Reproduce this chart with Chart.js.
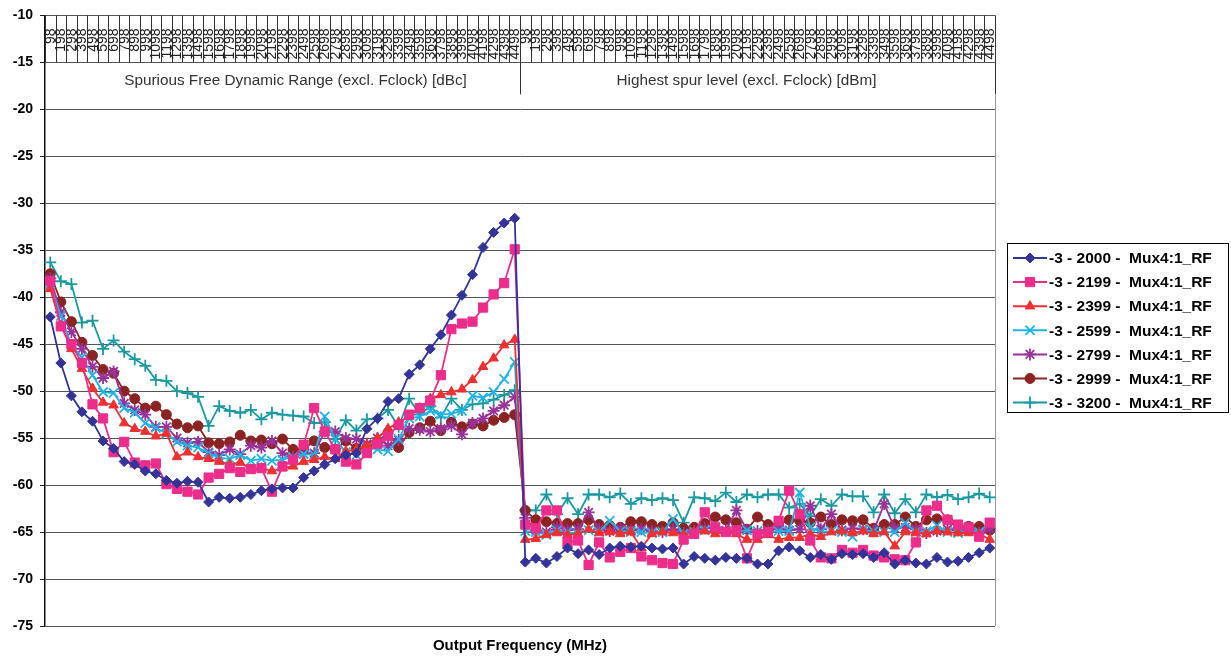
<!DOCTYPE html>
<html>
<head>
<meta charset="utf-8">
<script src="https://cdn.jsdelivr.net/npm/chart.js@4.4.0/dist/chart.umd.min.js"></script>
<style>
  html, body { margin: 0; padding: 0; background: #fff; }
  canvas { display: block; }
</style>
</head>
<body>
<canvas id="grafico" width="1231" height="658"></canvas>
<script>
// ===== Dados =====
const freqLabels = ['98','198','298','398','498','598','698','798','898','998',
  '1098','1198','1298','1398','1498','1598','1698','1798','1898','1998',
  '2098','2198','2298','2398','2498','2598','2698','2798','2898','2998',
  '3098','3198','3298','3398','3498','3598','3698','3798','3898','3998',
  '4098','4198','4298','4398','4498'];
const groupLabels = ['Spurious Free Dynamic Range (excl. Fclock) [dBc]', 'Highest spur level (excl. Fclock) [dBm]'];
const seriesNames = ['-3 - 2000 -  Mux4:1_RF', '-3 - 2199 -  Mux4:1_RF', '-3 - 2399 -  Mux4:1_RF',
  '-3 - 2599 -  Mux4:1_RF', '-3 - 2799 -  Mux4:1_RF', '-3 - 2999 -  Mux4:1_RF', '-3 - 3200 -  Mux4:1_RF'];

// SFDR [dBc] (first group) and highest spur [dBm] (second group)
const sfdr2000 = [-42.1,-47.0,-50.5,-52.2,-53.2,-55.3,-56.1,-57.5,-57.8,-58.5,-58.8,-59.5,-59.8,-59.6,-59.7,
  -61.8,-61.3,-61.4,-61.3,-61.0,-60.6,-60.4,-60.3,-60.3,-59.2,-58.5,-57.8,-57.2,-56.8,-56.6,
  -54.0,-52.9,-51.1,-50.8,-48.2,-47.2,-45.5,-44.0,-41.9,-39.8,-37.6,-34.7,-33.1,-32.1,-31.6];
const spur2000 = [-68.2,-67.8,-68.3,-67.6,-66.7,-67.3,-66.9,-67.4,-66.7,-66.5,-66.6,-66.5,-66.7,-66.8,-66.7,
  -68.4,-67.6,-67.8,-68.0,-67.7,-67.8,-67.8,-68.4,-68.4,-67.0,-66.6,-67.0,-67.7,-67.4,-67.9,
  -67.3,-67.4,-67.3,-67.7,-67.2,-68.4,-68.0,-68.3,-68.4,-67.7,-68.2,-68.1,-67.7,-67.2,-66.7];

const sfdr2199 = [-38.3,-43.1,-45.0,-47.0,-51.4,-52.9,-56.5,-55.4,-57.6,-57.9,-57.7,-59.9,-60.4,-60.7,-61.0,
  -59.2,-58.8,-58.2,-58.6,-58.3,-58.2,-60.7,-58.0,-57.3,-55.7,-51.8,-54.3,-56.2,-57.5,-57.8,
  -56.6,-55.6,-54.8,-53.6,-52.5,-51.8,-51.0,-48.3,-43.4,-42.8,-42.6,-41.1,-39.7,-38.5,-34.9];
const spur2199 = [-64.2,-64.6,-62.7,-62.7,-66.1,-65.9,-68.5,-66.1,-67.7,-67.1,-66.7,-67.6,-68.0,-68.3,-68.4,
  -65.8,-65.2,-62.9,-64.5,-65.0,-64.8,-67.8,-65.2,-65.0,-63.8,-60.6,-63.1,-65.9,-67.7,-67.8,
  -66.9,-67.2,-66.9,-67.5,-67.7,-67.9,-68.0,-66.1,-62.7,-62.2,-63.7,-64.2,-64.5,-65.5,-64.0];

const sfdr2399 = [-39.1,-43.0,-45.5,-47.6,-49.7,-51.2,-51.5,-53.4,-54.0,-54.3,-54.8,-54.5,-57.0,-56.5,-57.0,
  -57.2,-57.5,-57.8,-57.6,-58.3,-58.2,-58.5,-58.2,-58.0,-57.5,-57.3,-57.0,-57.2,-56.4,-56.2,
  -55.7,-55.0,-54.0,-53.3,-52.7,-51.8,-50.8,-50.4,-50.1,-49.8,-48.8,-47.4,-46.5,-45.1,-44.5];
const spur2399 = [-65.8,-65.7,-65.3,-65.1,-65.3,-65.2,-64.7,-65.1,-65.0,-65.2,-65.0,-66.7,-65.2,-65.0,-65.1,
  -65.3,-65.0,-64.9,-65.2,-65.0,-65.2,-65.8,-65.8,-65.3,-65.8,-65.6,-65.6,-65.2,-65.5,-65.0,
  -64.9,-65.1,-64.9,-65.2,-65.0,-66.5,-65.0,-65.1,-65.2,-64.9,-65.0,-65.1,-65.1,-65.2,-65.8];

const sfdr2599 = [-38.6,-42.0,-45.1,-46.4,-48.3,-50.1,-50.2,-51.8,-52.3,-53.4,-53.9,-54.5,-55.4,-55.8,-56.0,
  -56.6,-57.1,-57.2,-56.8,-57.4,-57.2,-57.4,-57.3,-57.0,-56.7,-56.8,-52.7,-55.1,-56.5,-56.8,
  -56.0,-56.2,-56.4,-55.1,-52.9,-52.7,-52.1,-52.5,-52.4,-52.1,-50.5,-50.7,-50.1,-48.7,-46.9];
const spur2599 = [-64.9,-65.0,-65.3,-64.8,-65.0,-65.2,-64.8,-65.0,-63.8,-64.9,-65.0,-65.0,-65.1,-65.0,-63.6,
  -65.2,-65.0,-64.8,-65.0,-64.9,-65.0,-64.8,-64.9,-65.0,-64.9,-64.9,-60.8,-64.5,-65.0,-64.9,
  -65.0,-65.5,-64.8,-64.9,-65.0,-65.0,-64.0,-65.0,-64.9,-64.3,-65.0,-65.1,-64.8,-65.0,-64.0];

const sfdr2799 = [-38.0,-41.6,-43.7,-45.5,-47.4,-48.6,-47.9,-51.3,-52.0,-52.5,-53.8,-53.8,-55.0,-55.5,-55.4,
  -56.5,-56.8,-56.2,-56.7,-55.8,-56.0,-55.3,-56.6,-57.0,-56.7,-56.6,-54.3,-54.3,-55.0,-55.1,
  -55.6,-55.0,-55.8,-55.2,-54.0,-54.1,-54.3,-54.0,-53.7,-54.6,-53.4,-52.9,-52.1,-51.5,-50.6];
const spur2799 = [-63.5,-64.8,-65.0,-64.5,-64.8,-64.7,-62.9,-64.7,-64.9,-64.6,-64.8,-64.7,-64.9,-65.0,-64.7,
  -65.1,-64.9,-64.6,-64.5,-64.8,-62.7,-64.8,-64.9,-64.8,-64.6,-64.8,-64.7,-62.2,-64.7,-63.1,
  -64.8,-64.6,-64.7,-64.9,-62.0,-64.6,-64.5,-64.7,-65.1,-64.9,-64.7,-64.8,-64.7,-65.1,-64.6];

const sfdr2999 = [-37.5,-40.5,-42.6,-44.8,-46.2,-47.7,-48.1,-50.0,-50.8,-51.8,-51.6,-52.5,-53.5,-53.9,-53.7,
  -55.5,-55.6,-55.4,-54.7,-55.3,-55.2,-55.6,-55.1,-56.2,-56.2,-55.3,-56.0,-56.2,-55.3,-56.1,
  -55.9,-55.4,-54.4,-56.0,-54.4,-53.9,-53.2,-54.2,-53.3,-53.8,-53.5,-53.7,-53.1,-52.8,-52.5];
const spur2999 = [-62.7,-63.7,-63.9,-64.1,-64.1,-64.1,-63.7,-64.2,-64.3,-64.5,-63.9,-63.9,-64.2,-64.4,-64.0,
  -64.6,-64.5,-64.1,-63.4,-63.7,-64.0,-64.7,-63.4,-64.2,-64.2,-63.7,-63.8,-64.0,-63.4,-64.2,
  -63.7,-63.8,-63.7,-64.6,-64.2,-64.2,-63.4,-64.4,-63.7,-63.6,-63.7,-64.6,-64.4,-64.4,-64.8];

const sfdr3200 = [-36.3,-38.3,-38.6,-42.7,-42.5,-45.5,-44.6,-45.8,-46.6,-47.3,-48.8,-48.9,-50.0,-50.2,-50.6,
  -53.7,-51.6,-52.1,-52.3,-52.0,-53.0,-52.3,-52.5,-52.6,-52.7,-53.4,-53.3,-55.1,-53.1,-54.2,
  -53.0,-52.9,-52.0,-53.8,-50.8,-52.5,-51.6,-52.8,-50.8,-52.0,-51.4,-51.3,-50.9,-50.4,-49.9];
const spur3200 = [-62.7,-62.7,-61.0,-63.1,-61.4,-63.1,-61.0,-61.0,-61.3,-60.9,-62.0,-61.4,-61.6,-61.4,-61.6,
  -64.0,-61.3,-61.4,-61.7,-60.8,-61.8,-61.0,-61.3,-61.0,-61.0,-62.4,-62.0,-63.3,-61.5,-62.2,
  -61.0,-61.2,-61.2,-62.9,-61.0,-63.0,-61.5,-62.9,-61.0,-61.3,-61.05,-61.5,-61.3,-60.9,-61.3];

const yTicks = [-10,-15,-20,-25,-30,-35,-40,-45,-50,-55,-60,-65,-70,-75];

// ===== Estilo das séries =====
const cores = ['#333399', '#ec2d8c', '#ee3030', '#1eb4e8', '#993399', '#8c2323', '#1a9aa0'];
const marcadores = ['rectRot', 'rect', 'triangle', 'crossRot', 'star', 'circle', 'cross'];
const raios = [5, 6.5, 5.5, 6.5, 6, 5, 6];

const todosRotulos = freqLabels.concat(freqLabels);
const series = [
  sfdr2000.concat(spur2000), sfdr2199.concat(spur2199), sfdr2399.concat(spur2399),
  sfdr2599.concat(spur2599), sfdr2799.concat(spur2799), sfdr2999.concat(spur2999),
  sfdr3200.concat(spur3200)
];

const FONTE = '"Liberation Sans", Arial, sans-serif';

// eixo de categorias desenhado no topo, dentro da área do gráfico
const eixoTopo = {
  id: 'eixoTopo',
  beforeDatasetsDraw(chart) {
    const ctx = chart.ctx;
    const x = chart.scales.x, y = chart.scales.y;
    const topo = y.getPixelForValue(-10);
    const base = y.getPixelForValue(-15);
    const baseGrupo = y.getPixelForValue(-18.4);
    const meio = (x.getPixelForValue(1) - x.getPixelForValue(0)) / 2;
    const n = todosRotulos.length;
    ctx.save();
    ctx.strokeStyle = '#333';
    ctx.lineWidth = 1;
    for (let i = 0; i <= n; i++) {
      const px = Math.round(i < n ? x.getPixelForValue(i) - meio : x.getPixelForValue(n - 1) + meio) + 0.5;
      const fim = (i === freqLabels.length || i === n) ? baseGrupo : base;
      ctx.beginPath();
      ctx.moveTo(px, topo);
      ctx.lineTo(px, fim);
      ctx.stroke();
    }
    ctx.fillStyle = '#222';
    ctx.font = '14px ' + FONTE;
    ctx.textAlign = 'right';
    ctx.textBaseline = 'middle';
    todosRotulos.forEach((lab, i) => {
      const px = x.getPixelForValue(i);
      ctx.save();
      ctx.translate(px + 0.5, topo + 13);
      ctx.rotate(-Math.PI / 2);
      ctx.fillText(lab, 0, 0);
      ctx.restore();
    });
    ctx.fillStyle = '#333';
    ctx.font = '15.3px ' + FONTE;
    ctx.textAlign = 'center';
    const yGrupo = y.getPixelForValue(-16.95);
    const limites = [x.getPixelForValue(0) - meio, x.getPixelForValue(freqLabels.length) - meio, x.getPixelForValue(n - 1) + meio];
    // centros deslocados como no original
    ctx.fillText(groupLabels[0], (limites[0] + limites[1]) / 2 + 13, yGrupo);
    ctx.fillText(groupLabels[1], (limites[1] + limites[2]) / 2 - 11, yGrupo);
    // borda direita da área
    ctx.strokeStyle = '#999';
    ctx.beginPath();
    ctx.moveTo(Math.round(limites[2]) + 0.5, baseGrupo);
    ctx.lineTo(Math.round(limites[2]) + 0.5, y.getPixelForValue(-75));
    ctx.stroke();
    ctx.restore();
  }
};

// legenda com caixa, linha e marcador
const legendaCaixa = {
  id: 'legendaCaixa',
  afterDraw(chart) {
    const ctx = chart.ctx;
    ctx.save();
    ctx.strokeStyle = '#000';
    ctx.lineWidth = 1;
    ctx.strokeRect(1007.5, 243.5, 221, 169);
    chart.data.datasets.forEach((ds, i) => {
      const ly = 258 + i * 24.1;
      ctx.strokeStyle = ds.borderColor;
      ctx.lineWidth = 2;
      ctx.beginPath();
      ctx.moveTo(1013, ly);
      ctx.lineTo(1047, ly);
      ctx.stroke();
      ctx.fillStyle = ds.pointBackgroundColor;
      ctx.strokeStyle = ds.pointBorderColor;
      ctx.lineWidth = ds.pointBorderWidth;
      Chart.helpers.drawPoint(ctx, { pointStyle: ds.pointStyle, radius: ds.pointRadius, rotation: 0, borderWidth: ds.pointBorderWidth }, 1030, ly);
      ctx.fillStyle = '#000';
      ctx.font = 'bold 15.5px ' + FONTE;
      ctx.textAlign = 'left';
      ctx.textBaseline = 'middle';
      ctx.fillText(ds.label, 1049, ly + 1);
    });
    ctx.restore();
  }
};

new Chart(document.getElementById('grafico'), {
  type: 'line',
  data: {
    labels: todosRotulos,
    datasets: series.map((dados, i) => ({
      label: seriesNames[i],
      data: dados,
      borderColor: cores[i],
      backgroundColor: cores[i],
      borderWidth: 1.8,
      tension: 0,
      fill: false,
      pointStyle: marcadores[i],
      pointRadius: raios[i],
      pointBackgroundColor: cores[i],
      pointBorderColor: cores[i],
      pointBorderWidth: ['crossRot', 'star', 'cross'].includes(marcadores[i]) ? 1.8 : 1,
    }))
  },
  options: {
    responsive: false,
    animation: false,
    layout: { padding: { left: 0, right: 236, top: 11, bottom: 0 } },
    plugins: {
      legend: { display: false },
      tooltip: { enabled: false }
    },
    scales: {
      x: {
        type: 'category',
        offset: true,
        grid: { display: false },
        border: { display: false },
        ticks: { display: false },
        title: {
          display: true,
          text: 'Output Frequency (MHz)',
          color: '#000',
          font: { family: FONTE, size: 15, weight: 'bold' },
          padding: { top: 6, bottom: 3 }
        },
        afterFit: s => { s.height = 32; }
      },
      y: {
        min: -75,
        max: -10,
        afterBuildTicks: s => { s.ticks = yTicks.map(v => ({ value: v })); },
        grid: { color: '#555', lineWidth: 1, tickLength: 5, tickColor: '#222' },
        border: { color: '#111', width: 1.5 },
        ticks: {
          color: '#000',
          padding: 7,
          font: { family: FONTE, size: 14, weight: 'bold' }
        },
        afterFit: s => { s.width = 45; }
      }
    }
  },
  plugins: [eixoTopo, legendaCaixa]
});
</script>
</body>
</html>
